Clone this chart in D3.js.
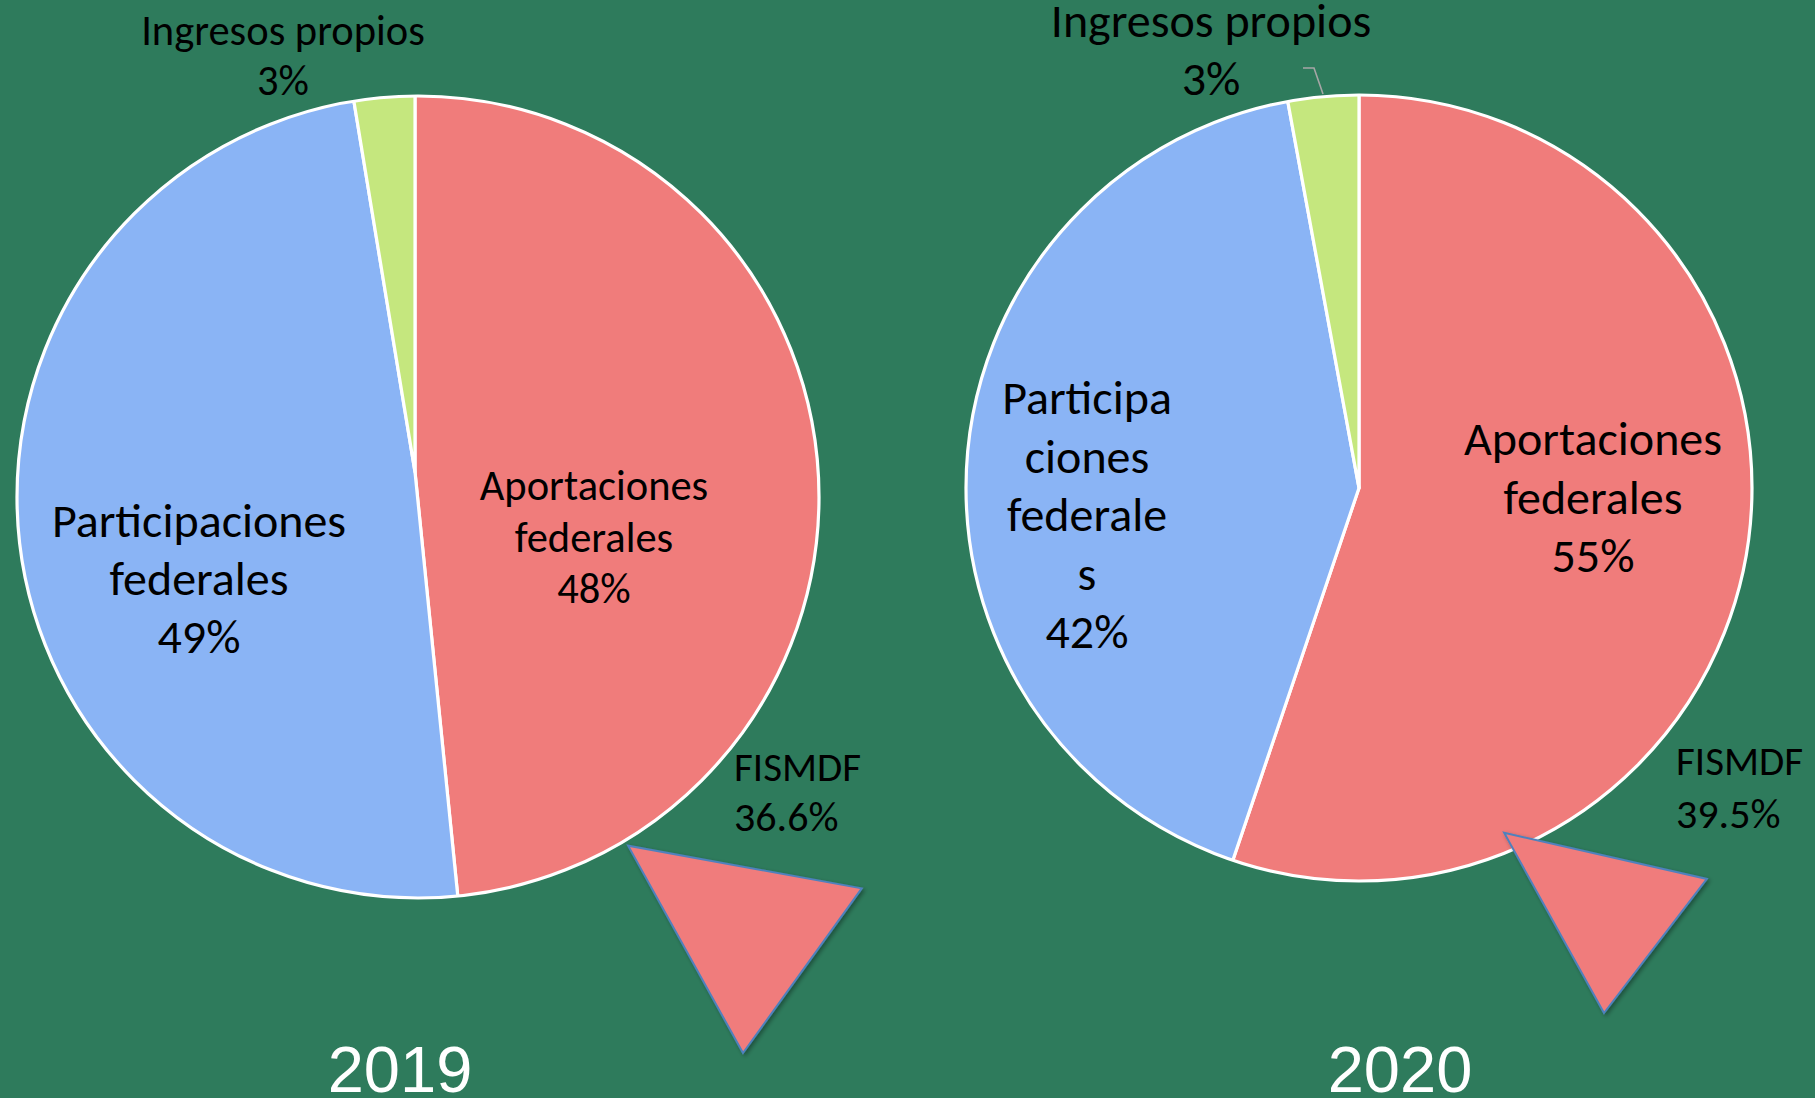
<!DOCTYPE html>
<html>
<head>
<meta charset="utf-8">
<script src="https://cdn.jsdelivr.net/npm/d3@7"></script>
<style>
  html, body { margin: 0; padding: 0; background: #2E7B5C; }
  svg { display: block; }
  text { font-family: Carlito, Calibri, Lato, "Open Sans", sans-serif; fill: #000; }
  .year { font-family: "Liberation Sans", Arial, sans-serif; fill: #fff; }
</style>
</head>
<body>
<svg id="chart" width="1815" height="1098"></svg>
<script>
// ---------------- data ----------------
const years = ["2019", "2020"];
const categories = ["Aportaciones federales", "Participaciones federales", "Ingresos propios"];
const values2019 = [48.4, 49.0, 2.6];   // % of total
const values2020 = [55.2, 41.9, 2.9];
const fismdfShare = [36.6, 39.5];        // FISMDF, % of Aportaciones
const colors = ["#F07C7B", "#8AB4F5", "#C5E77E"];

// label line breaks as they appear in the original
const labelLines2019 = [["Aportaciones", "federales"], ["Participaciones", "federales"], ["Ingresos propios"]];
const labelLines2020 = [["Aportaciones", "federales"], ["Participa", "ciones", "federale", "s"], ["Ingresos propios"]];

// ---------------- layout ----------------
const layout = [
  { cx: 418, cy: 497, r: 401, vx: -3, vy: -25,
    labels: [ {x: 176, y: 3, size: 42.5, lh: 51.5}, {x: -219, y: 40, size: 48, lh: 58}, {x: -135, y: -452, size: 42.5, lh: 50} ],
    fis: {x: 316, y: 284, size: 42, lh: 50, w: 127},
    wedge: {dx: 325, dy: 556, a0: -29.0, r0: 237, a1: 35.8, r1: 203},
    year: {x: -18, y: 595} },
  { cx: 1359, cy: 488, r: 393, vx: 0, vy: 0,
    labels: [ {x: 234, y: -33, size: 48, lh: 58.5}, {x: -272, y: -74, size: 48, lh: 58.5}, {x: -148, y: -451, size: 48, lh: 58} ],
    fis: {x: 317, y: 287, size: 42, lh: 53, w: 127},
    wedge: {dx: 245, dy: 525, a0: -29.0, r0: 206, a1: 37.5, r1: 169},
    year: {x: 41, y: 604},
    leader: [[-56, -420], [-45, -420], [-36, -394]] }
];

const allValues = [values2019, values2020];
const allLines = [labelLines2019, labelLines2020];

const svg = d3.select("#chart");
const defs = svg.append("defs");
const f = defs.append("filter").attr("id", "shadow").attr("x", "-20%").attr("y", "-20%").attr("width", "140%").attr("height", "140%");
f.append("feDropShadow").attr("dx", 2).attr("dy", 2).attr("stdDeviation", 2).attr("flood-color", "#000").attr("flood-opacity", 0.35);

const pie = d3.pie().sort(null).value(d => d.value);

years.forEach((yr, i) => {
  const L = layout[i];
  const data = categories.map((c, k) => ({ cat: c, value: allValues[i][k], lines: allLines[i][k] }));
  const arcs = pie(data);

  // clip to the pie disc; slices radiate from the (slightly offset) vertex
  const clipId = "clip" + i;
  defs.append("clipPath").attr("id", clipId).append("circle").attr("cx", L.cx).attr("cy", L.cy).attr("r", L.r);
  const arc = d3.arc().innerRadius(0).outerRadius(L.r + 60);
  const sg = svg.append("g").attr("clip-path", `url(#${clipId})`)
    .append("g").attr("transform", `translate(${L.cx + L.vx},${L.cy + L.vy})`);

  sg.selectAll("path.slice").data(arcs).join("path")
    .attr("class", "slice")
    .attr("d", arc)
    .attr("fill", (d, k) => colors[k])
    .attr("stroke", "#fff")
    .attr("stroke-width", 3.2)
    .attr("stroke-linejoin", "round");

  const g = svg.append("g").attr("transform", `translate(${L.cx},${L.cy})`);
  g.append("circle").attr("r", L.r).attr("fill", "none").attr("stroke", "#fff").attr("stroke-width", 3.2);

  // leader line (2020 ingresos propios)
  if (L.leader) {
    g.append("path").attr("d", d3.line()(L.leader))
      .attr("fill", "none").attr("stroke", "#A6A6A6").attr("stroke-width", 1.6);
  }

  // labels
  arcs.forEach((a, k) => {
    const p = L.labels[k];
    const t = g.append("text").attr("text-anchor", "middle").style("font-size", p.size + "px");
    const lines = a.data.lines.concat([Math.round(a.data.value) + "%"]);
    lines.forEach((ln, j) => {
      t.append("tspan").attr("x", p.x).attr("y", p.y + j * p.lh).text(ln);
    });
  });

  // FISMDF detached wedge (share of Aportaciones)
  const W = L.wedge;
  const rad = Math.PI / 180;
  const wedgeLine = d3.lineRadial().curve(d3.curveLinearClosed)
    .angle(d => d[0] * rad).radius(d => d[1]);
  g.append("path")
    .attr("transform", `translate(${W.dx},${W.dy})`)
    .attr("d", wedgeLine([[0, 0], [W.a0, W.r0], [W.a1, W.r1]]))
    .attr("fill", colors[0])
    .attr("stroke", "#4F81BD")
    .attr("stroke-width", 2)
    .attr("stroke-linejoin", "miter")
    .attr("filter", "url(#shadow)");

  const ft = g.append("text").attr("text-anchor", "start").style("font-size", L.fis.size + "px");
  ft.append("tspan").attr("x", L.fis.x).attr("y", L.fis.y)
    .attr("textLength", L.fis.w).attr("lengthAdjust", "spacingAndGlyphs").text("FISMDF");
  ft.append("tspan").attr("x", L.fis.x).attr("y", L.fis.y + L.fis.lh).text(fismdfShare[i].toFixed(1) + "%");

  g.append("text").attr("class", "year").attr("text-anchor", "middle")
    .attr("x", L.year.x).attr("y", L.year.y)
    .style("font-size", "65px").text(yr);
});
</script>
</body>
</html>
